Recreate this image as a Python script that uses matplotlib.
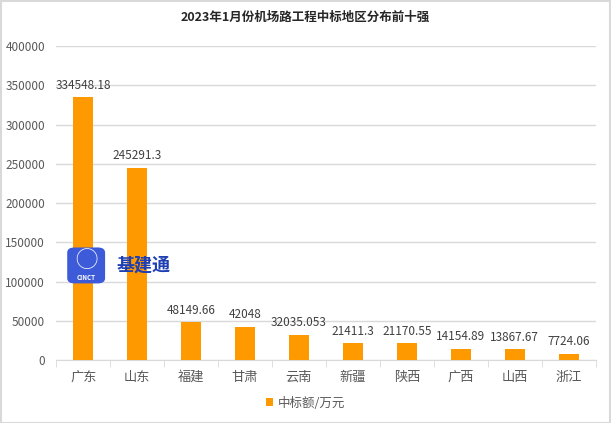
import matplotlib.pyplot as plt
from matplotlib.patches import FancyBboxPatch, Rectangle

plt.rcParams['font.family'] = ['Noto Sans CJK SC', 'DejaVu Sans']

# data
regions = ['广东', '山东', '福建', '甘肃', '云南', '新疆', '陕西', '广西', '山西', '浙江']
amounts = [334548.18, 245291.3, 48149.66, 42048, 32035.053, 21411.3, 21170.55, 14154.89, 13867.67, 7724.06]
labels = ['334548.18', '245291.3', '48149.66', '42048', '32035.053', '21411.3', '21170.55', '14154.89', '13867.67', '7724.06']
yticks = [0, 50000, 100000, 150000, 200000, 250000, 300000, 350000, 400000]

bar_color = '#FF9900'
grid_color = '#D9D9D9'
text_color = '#595959'

fig = plt.figure(figsize=(6.11, 4.23), dpi=100)
ax = fig.add_axes([0.092, 0.149, 0.883, 0.742])

x = range(len(regions))
bars = ax.bar(x, amounts, width=0.37, color=bar_color, label='中标额/万元', zorder=3)

for xi, v, lab in zip(x, amounts, labels):
    ax.annotate(lab, (xi, v), xytext=(0, 4), textcoords='offset points',
                ha='center', va='bottom', fontsize=8.5, color='#404040')

ax.set_xlim(-0.5, len(regions) - 0.5)
ax.set_ylim(0, 400000)
ax.set_yticks(yticks)
ax.set_yticklabels([str(t) for t in yticks])
ax.yaxis.grid(True, color=grid_color, linewidth=1, zorder=0)
ax.set_xticks(x)
ax.set_xticklabels(regions, fontsize=9.5)
ax.set_xticks([i - 0.5 for i in range(len(regions) + 1)], minor=True)
ax.tick_params(axis='x', which='major', length=0, pad=8, colors=text_color)
ax.tick_params(axis='x', which='minor', length=5, color=grid_color)
ax.tick_params(axis='y', length=0, labelsize=8.5, colors=text_color, pad=8)
for s in ['top', 'right', 'left']:
    ax.spines[s].set_visible(False)
ax.spines['bottom'].set_color(grid_color)

fig.suptitle('2023年1月份机场路工程中标地区分布前十强', y=0.975, fontsize=9,
             fontweight='bold', color='#262626')

leg = fig.legend(loc='lower center', bbox_to_anchor=(0.5, 0.005), frameon=False,
                 fontsize=9, handlelength=0.6, handleheight=0.6, handletextpad=0.4)
for t in leg.get_texts():
    t.set_color(text_color)

# watermark logo
logo = FancyBboxPatch((0.110, 0.33), 0.062, 0.085, boxstyle='round,pad=0,rounding_size=0.012',
                      transform=fig.transFigure, facecolor='#3D5BD9', edgecolor='none', zorder=5)
fig.patches.append(logo)
fig.text(0.141, 0.345, 'CINCT', ha='center', va='center', fontsize=4.5, color='white',
         fontweight='bold', zorder=6)
fig.text(0.141, 0.385, '◯', ha='center', va='center', fontsize=16, color='white', zorder=6)
fig.text(0.19, 0.373, '基建通', ha='left', va='center', fontsize=13, color='#1E3FB4',
         fontweight='bold', zorder=6)

# figure border
fig.patches.append(Rectangle((0.001, 0.001), 0.998, 0.997, transform=fig.transFigure,
                             fill=False, edgecolor='#D9D9D9', linewidth=1.5))

fig.savefig('out.png', dpi=100)
